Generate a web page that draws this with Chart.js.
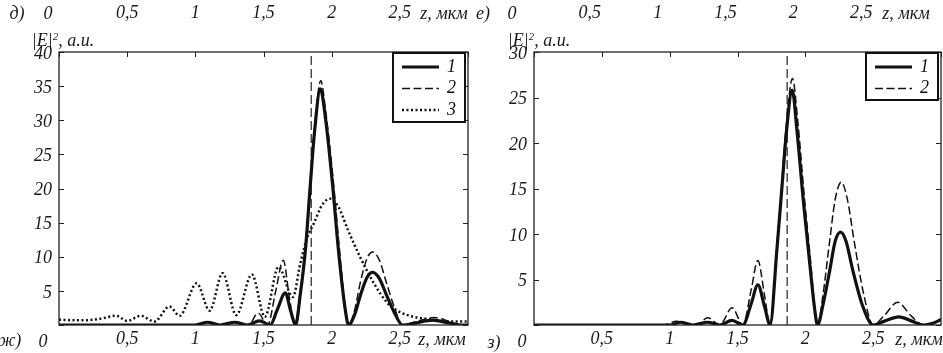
<!DOCTYPE html>
<html>
<head>
<meta charset="utf-8">
<script src="https://cdn.jsdelivr.net/npm/chart.js@4.4.1/dist/chart.umd.min.js"></script>
<style>
  body { margin: 0; background: #fff; }
  #wrap { position: relative; width: 943px; height: 353px; overflow: hidden; }
  canvas { position: absolute; top: 0; }
  .t { position: absolute; font: italic 18px "Liberation Serif", "DejaVu Serif", serif; line-height: 1; color: #1a1a1a; white-space: nowrap; transform: translate(-50%, -50%); pointer-events: none; }
  .t sup { font-size: 0.6em; vertical-align: 0.6em; line-height: 0; }
</style>
</head>
<body>
<div id="wrap">
  <canvas id="chartL" width="475" height="353" style="left:0"></canvas>
  <canvas id="chartR" width="468" height="353" style="left:475px"></canvas>

  <div class="t" style="left:17px;top:13px">д)</div>
  <div class="t" style="left:48px;top:13px">0</div>
  <div class="t" style="left:444px;top:13px">z, мкм</div>
  <div class="t" style="left:63px;top:40px">|E|<sup>2</sup>, a.u.</div>
  <div class="t" style="left:10px;top:340px">ж)</div>
  <div class="t" style="left:43px;top:341px">0</div>
  <div class="t" style="left:442px;top:339px">z, мкм</div>

  <div class="t" style="left:483px;top:13px">е)</div>
  <div class="t" style="left:512px;top:13px">0</div>
  <div class="t" style="left:906px;top:13px">z, мкм</div>
  <div class="t" style="left:539px;top:40px">|E|<sup>2</sup>, a.u.</div>
  <div class="t" style="left:494px;top:342px">з)</div>
  <div class="t" style="left:522px;top:341px">0</div>
  <div class="t" style="left:919px;top:339px">z, мкм</div>
</div>
<script>
// panel ж) : curves 1, 2, 3
const zL1 = [0, 0.5, 1.0, 1.09, 1.18, 1.29, 1.38, 1.47, 1.55, 1.60, 1.66, 1.70, 1.735, 1.77, 1.807, 1.844, 1.873, 1.917, 1.954, 2.006, 2.05, 2.10, 2.124, 2.17, 2.21, 2.26, 2.30, 2.35, 2.40, 2.46, 2.52, 2.62, 2.74, 2.86, 2.95, 3.0];
const eL1 = [0, 0, 0, 0.4, 0, 0.4, 0, 0.6, 0, 2.2, 4.7, 2.0, 0, 4.5, 10.9, 20.7, 28, 34.6, 30.4, 20.7, 10.9, 2.2, 0, 1.6, 4.3, 7.0, 7.7, 6.8, 4.5, 1.8, 0, 0.3, 0.7, 0.3, 0, 0];
const zL2 = [0, 0.5, 1.0, 1.1, 1.19, 1.3, 1.39, 1.46, 1.53, 1.59, 1.645, 1.69, 1.73, 1.77, 1.81, 1.845, 1.875, 1.92, 1.955, 2.01, 2.055, 2.10, 2.125, 2.17, 2.21, 2.26, 2.30, 2.35, 2.40, 2.46, 2.52, 2.62, 2.75, 2.88, 2.96, 3.0];
const eL2 = [0, 0, 0, 0.35, 0, 0.45, 0, 1.75, 0, 5, 9.5, 4, 0, 5, 12, 21.5, 29, 35.8, 31.5, 21.5, 11.5, 2.5, 0, 2.3, 6.2, 9.8, 10.7, 9.5, 6.3, 2.6, 0, 0.5, 1.1, 0.4, 0, 0];
const zL3 = [0, 0.1, 0.2, 0.3, 0.42, 0.5, 0.6, 0.7, 0.81, 0.885, 1.01, 1.105, 1.20, 1.30, 1.415, 1.51, 1.61, 1.715, 1.77, 1.82, 1.87, 1.93, 1.99, 2.05, 2.12, 2.21, 2.31, 2.41, 2.5, 2.6, 2.7, 2.8, 2.9, 3.0];
const eL3 = [0.8, 0.7, 0.7, 0.9, 1.35, 0.6, 1.35, 0.5, 2.7, 1.35, 6.1, 2.1, 7.6, 1.45, 7.4, 1.2, 8.5, 4.1, 9, 12.8, 14.9, 17.6, 18.5, 17.3, 13.9, 9.9, 6.1, 3.2, 1.9, 1.2, 0.9, 0.6, 0.5, 0.5];
const markL = 1.85;

// panel з) : curves 1, 2
const zR1 = [0, 0.5, 1.0, 1.08, 1.17, 1.28, 1.37, 1.46, 1.54, 1.60, 1.65, 1.70, 1.74, 1.79, 1.83, 1.86, 1.903, 1.94, 1.985, 2.035, 2.07, 2.09, 2.13, 2.18, 2.22, 2.26, 2.30, 2.35, 2.42, 2.50, 2.58, 2.69, 2.79, 2.87, 2.94, 3.0];
const eR1 = [0, 0, 0, 0.3, 0, 0.3, 0, 0.5, 0, 2.3, 4.4, 2.0, 0, 8.2, 15.6, 21.1, 25.8, 21.1, 13.7, 6.4, 1.6, 0, 2.2, 6, 9.2, 10.2, 9.2, 6, 2.2, 0, 0.4, 0.9, 0.4, 0, 0.2, 0.6];
const zR2 = [0, 0.5, 0.95, 1.05, 1.15, 1.2, 1.28, 1.37, 1.46, 1.54, 1.60, 1.65, 1.70, 1.74, 1.79, 1.83, 1.86, 1.905, 1.945, 1.99, 2.04, 2.07, 2.09, 2.13, 2.18, 2.22, 2.265, 2.31, 2.36, 2.43, 2.50, 2.58, 2.68, 2.78, 2.87, 2.94, 3.0];
const eR2 = [0, 0, 0, 0.4, 0, 0, 0.8, 0, 1.9, 0, 3.8, 7.1, 3.2, 0, 8.6, 16.3, 22, 27.1, 22.3, 14.5, 6.8, 1.8, 0, 3.3, 9.3, 13.8, 15.7, 13.8, 9.2, 3.4, 0, 1.0, 2.5, 1.0, 0, 0.2, 0.6];
const markR = 1.866;

const curveNames = ["1", "2", "3"];
const xTickLabels = ["", "0,5", "1", "1,5", "2", "2,5", ""];
const yMaxL = 40;
const yMaxR = 30;

const serif = "'Liberation Serif', 'DejaVu Serif', serif";
const pts = (xs, ys) => xs.map((x, i) => ({ x: x, y: ys[i] }));

const styles = [
  { borderWidth: 3.2, borderDash: [] },
  { borderWidth: 1.5, borderDash: [8, 3.5] },
  { borderWidth: 2.5, borderDash: [2, 2.5] },
];

function curve(i, xs, ys) {
  return {
    label: curveNames[i],
    data: pts(xs, ys),
    borderColor: "#111",
    borderWidth: styles[i].borderWidth,
    borderDash: styles[i].borderDash,
    pointRadius: 0,
    fill: false,
    cubicInterpolationMode: "monotone",
  };
}

function marker(z, top) {
  return {
    data: [{ x: z, y: 0 }, { x: z, y: top }],
    borderColor: "#222",
    borderWidth: 1.2,
    borderDash: [9, 4],
    pointRadius: 0,
    fill: false,
  };
}

// frame, inward ticks and the boxed legend
const framePlugin = {
  id: "frame",
  afterDraw(chart) {
    const { ctx, chartArea: a, scales } = chart;
    ctx.save();
    ctx.strokeStyle = "#222";
    ctx.lineWidth = 1.3;
    ctx.strokeRect(a.left, a.top, a.width, a.height);
    ctx.beginPath();
    scales.y.ticks.forEach(t => {
      const py = Math.round(scales.y.getPixelForValue(t.value)) + 0.5;
      ctx.moveTo(a.left, py); ctx.lineTo(a.left + 5, py);
      ctx.moveTo(a.right, py); ctx.lineTo(a.right - 5, py);
    });
    scales.x.ticks.forEach(t => {
      const px = Math.round(scales.x.getPixelForValue(t.value)) + 0.5;
      ctx.moveTo(px, a.top); ctx.lineTo(px, a.top + 5);
    });
    ctx.lineWidth = 1;
    ctx.stroke();

    const items = chart.data.datasets.filter(d => d.label);
    const w = 72, h = items.length * 22 + 3;
    const x0 = a.right - w - 3, y0 = a.top + 1;
    ctx.fillStyle = "#fff";
    ctx.fillRect(x0, y0, w, h);
    ctx.lineWidth = 2;
    ctx.strokeStyle = "#111";
    ctx.strokeRect(x0, y0, w, h);
    items.forEach((d, i) => {
      const cy = y0 + 14 + i * 21.5;
      ctx.beginPath();
      ctx.setLineDash(d.borderDash);
      ctx.lineWidth = d.borderWidth;
      ctx.moveTo(x0 + 9, cy); ctx.lineTo(x0 + 46, cy);
      ctx.stroke();
      ctx.setLineDash([]);
      ctx.fillStyle = "#111";
      ctx.font = "italic 18px " + serif;
      ctx.textBaseline = "middle";
      ctx.fillText(d.label, x0 + 54, cy);
    });
    ctx.restore();
  },
};

function makeChart(id, datasets, yMax, rightPad, topShift) {
  const tickFont = { family: serif, style: "italic", size: 18 };
  return new Chart(document.getElementById(id), {
    type: "line",
    data: { datasets: datasets },
    options: {
      responsive: false,
      animation: false,
      layout: { padding: { left: 0, right: rightPad, top: 0, bottom: 0 } },
      plugins: { legend: { display: false }, tooltip: { enabled: false } },
      scales: {
        x: {
          type: "linear", min: 0, max: 3,
          grid: { display: false, drawTicks: false },
          border: { display: false },
          afterFit: s => { s.height = 28; s.paddingLeft = 0; s.paddingRight = 0; },
          afterBuildTicks: s => { s.ticks = xTickLabels.map((l, i) => ({ value: i * 0.5 })); },
          ticks: { autoSkip: false, maxRotation: 0, padding: 3, color: "#1a1a1a", font: tickFont,
                   callback: (v, i) => xTickLabels[i] },
        },
        x2: {
          type: "linear", position: "top", min: 0, max: 3,
          grid: { display: false, drawTicks: false },
          border: { display: false },
          afterFit: s => { s.height = 52; s.paddingLeft = 0; s.paddingRight = 0; },
          afterBuildTicks: s => { s.ticks = xTickLabels.map((l, i) => ({ value: i * 0.5 })); },
          ticks: { autoSkip: false, maxRotation: 0, padding: 28, labelOffset: topShift, color: "#1a1a1a", font: tickFont,
                   callback: (v, i) => xTickLabels[i] },
        },
        y: {
          min: 0, max: yMax,
          grid: { display: false, drawTicks: false },
          border: { display: false },
          afterFit: s => { s.width = 59; s.paddingTop = 0; s.paddingBottom = 0; },
          ticks: { stepSize: 5, padding: 7, labelOffset: 2, color: "#1a1a1a", font: tickFont,
                   callback: v => (v === 0 ? "" : String(v)) },
        },
      },
    },
    plugins: [framePlugin],
  });
}

makeChart("chartL", [
  curve(0, zL1, eL1),
  curve(1, zL2, eL2),
  curve(2, zL3, eL3),
  marker(markL, yMaxL),
], yMaxL, 7, 0);

makeChart("chartR", [
  curve(0, zR1, eR1),
  curve(1, zR2, eR2),
  marker(markR, yMaxR),
], yMaxR, 2, -12);
</script>
</body>
</html>
